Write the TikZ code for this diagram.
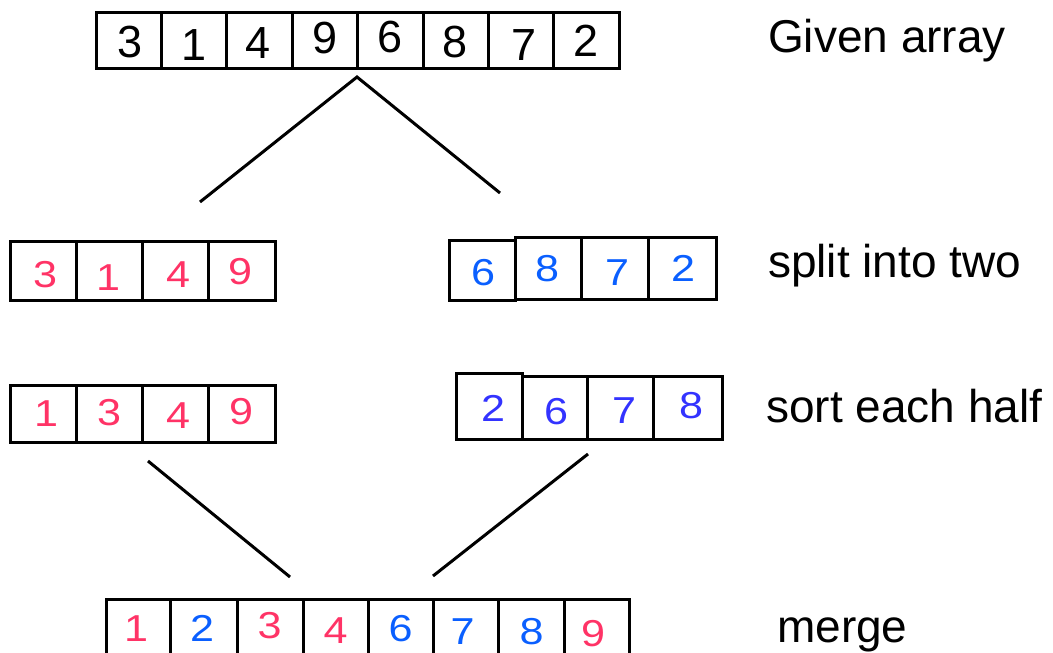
\documentclass[tikz,border=0pt]{standalone}
\usepackage{fontspec}
\usepackage{graphicx}
\setmainfont{Liberation Sans}
\definecolor{pk}{RGB}{255,51,102}
\definecolor{bl}{RGB}{10,95,255}
\definecolor{vi}{RGB}{51,51,255}
\newcommand{\sdg}[1]{\scalebox{1.15}[1]{#1}}
\newcommand{\mkcell}[5]{\node[cellbox,minimum width={(#4-#2)*1pt},minimum height={(#5-#3)*1pt}] (#1) at ({(#2+#4)/2},{(#3+#5)/2}) {};}
\begin{document}
\begin{tikzpicture}[x=1pt,y=-1pt,
 cellbox/.style={draw=black,line width=3pt,rectangle,inner sep=0pt,outer sep=0pt},
 bigdigit/.style={anchor=base,inner sep=0pt,font=\fontsize{45}{50}\selectfont},
 smalldigit/.style={anchor=base,inner sep=0pt,font=\fontsize{37.5}{40}\selectfont},
 steplabel/.style={anchor=base west,inner sep=0pt,font=\fontsize{46}{50}\selectfont},
 link/.style={line width=3pt,black}]
\useasboundingbox (0,0) rectangle (1053,653);
\clip (0,0) rectangle (1053,653);

% ---- given array
\mkcell{g1}{96}{12}{161.4}{68}
\mkcell{g2}{161.4}{12}{226.8}{68}
\mkcell{g3}{226.8}{12}{292.2}{68}
\mkcell{g4}{292.2}{12}{357.6}{68}
\mkcell{g5}{357.6}{12}{423}{68}
\mkcell{g6}{423}{12}{488.4}{68}
\mkcell{g7}{488.4}{12}{553.8}{68}
\mkcell{g8}{553.8}{12}{619.2}{68}
\node[bigdigit] (gd1) at (130,57) {3};
\node[bigdigit] (gd2) at (194,60) {1};
\node[bigdigit] (gd3) at (258,58) {4};
\node[bigdigit] (gd4) at (325,53) {9};
\node[bigdigit] (gd5) at (390.5,52.5) {6};
\node[bigdigit] (gd6) at (455.5,57) {8};
\node[bigdigit] (gd7) at (524,60) {7};
\node[bigdigit] (gd8) at (586.5,56) {2};

% ---- split left
\mkcell{sl1}{10}{241}{76.5}{300}
\mkcell{sl2}{76.5}{241}{142.5}{300}
\mkcell{sl3}{142.5}{241}{208.5}{300}
\mkcell{sl4}{208.5}{241}{275}{300}
\node[smalldigit,text=pk] (sld1) at (45,287) {\sdg{3}};
\node[smalldigit,text=pk] (sld2) at (108,290) {\sdg{1}};
\node[smalldigit,text=pk] (sld3) at (178,287.5) {\sdg{4}};
\node[smalldigit,text=pk] (sld4) at (240,284.5) {\sdg{9}};

% ---- split right
\mkcell{sr1}{449}{240}{515}{300}
\mkcell{sr2}{515}{237}{581}{299}
\mkcell{sr3}{581}{237}{648}{299}
\mkcell{sr4}{648}{237}{716}{299}
\node[smalldigit,text=bl] (srd1) at (483,285) {\sdg{6}};
\node[smalldigit,text=bl] (srd2) at (547,281) {\sdg{8}};
\node[smalldigit,text=bl] (srd3) at (617,285) {\sdg{7}};
\node[smalldigit,text=bl] (srd4) at (683,281) {\sdg{2}};

% ---- sorted left
\mkcell{tl1}{10}{385}{76.5}{442}
\mkcell{tl2}{76.5}{385}{142.5}{442}
\mkcell{tl3}{142.5}{385}{208.5}{442}
\mkcell{tl4}{208.5}{385}{275}{442}
\node[smalldigit,text=pk] (tld1) at (46,426.5) {\sdg{1}};
\node[smalldigit,text=pk] (tld2) at (109,425) {\sdg{3}};
\node[smalldigit,text=pk] (tld3) at (178,428) {\sdg{4}};
\node[smalldigit,text=pk] (tld4) at (241,424.5) {\sdg{9}};

% ---- sorted right
\mkcell{tr1}{456}{373}{522}{439}
\mkcell{tr2}{522}{376}{587}{439}
\mkcell{tr3}{587}{376}{653}{439}
\mkcell{tr4}{653}{376}{722}{439}
\node[smalldigit,text=vi] (trd1) at (493,421.5) {\sdg{2}};
\node[smalldigit,text=vi] (trd2) at (556,424) {\sdg{6}};
\node[smalldigit,text=vi] (trd3) at (624,423) {\sdg{7}};
\node[smalldigit,text=vi] (trd4) at (691,418) {\sdg{8}};

% ---- merged
\mkcell{m1}{106}{599}{170.4}{665}
\mkcell{m2}{170.4}{599}{237.5}{665}
\mkcell{m3}{237.5}{599}{303.4}{665}
\mkcell{m4}{303.4}{599}{368}{665}
\mkcell{m5}{368}{599}{433.3}{665}
\mkcell{m6}{433.3}{599}{498.6}{665}
\mkcell{m7}{498.6}{599}{564.6}{665}
\mkcell{m8}{564.6}{599}{629}{665}
\node[smalldigit,text=pk] (md1) at (136,641.5) {\sdg{1}};
\node[smalldigit,text=bl] (md2) at (202,641.5) {\sdg{2}};
\node[smalldigit,text=pk] (md3) at (269.5,638) {\sdg{3}};
\node[smalldigit,text=pk] (md4) at (335.5,643) {\sdg{4}};
\node[smalldigit,text=bl] (md5) at (400.5,641.5) {\sdg{6}};
\node[smalldigit,text=bl] (md6) at (462.5,644.5) {\sdg{7}};
\node[smalldigit,text=bl] (md7) at (531.5,644) {\sdg{8}};
\node[smalldigit,text=pk] (md8) at (593,646) {\sdg{9}};

% ---- labels
\node[steplabel] (lab1) at (768,52) {Given array};
\node[steplabel] (lab2) at (768,277) {split into two};
\node[steplabel] (lab3) at (766,422) {sort each half};
\node[steplabel] (lab4) at (777,642) {merge};

% ---- connectors
\coordinate (apex) at (357,77);
\coordinate (splitL) at (200,202);
\coordinate (splitR) at (500,193);
\draw[link] (splitL) -- (apex) -- (splitR);
\coordinate (sortL) at (148,461);
\coordinate (mergeL) at (290,577);
\coordinate (sortR) at (588,454);
\coordinate (mergeR) at (433,576);
\draw[link] (sortL) -- (mergeL);
\draw[link] (sortR) -- (mergeR);
\end{tikzpicture}
\end{document}
